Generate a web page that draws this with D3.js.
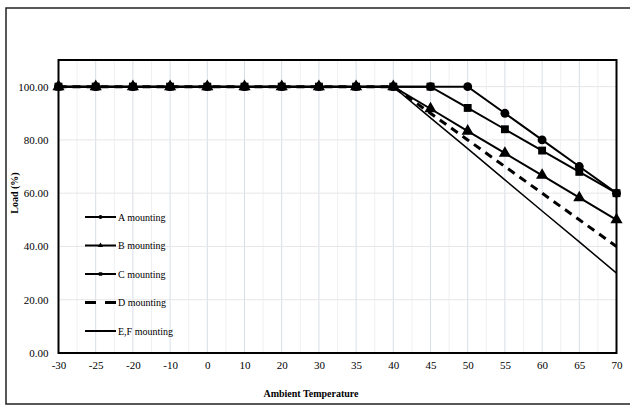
<!DOCTYPE html>
<html>
<head>
<meta charset="utf-8">
<script src="https://cdn.jsdelivr.net/npm/d3@7"></script>
<style>
  body { margin: 0; background: #fff; }
  text { font-family: "Liberation Serif", "Times New Roman", serif; fill: #000; }
</style>
</head>
<body>
<div id="chart"></div>
<script>
// ---------------- Data
const temps = ["-30","-25","-20","-10","0","10","20","30","35","40","45","50","55","60","65","70"]
const loadA  = [100,100,100,100,100,100,100,100,100,100,100,100,90,80,70,60]
const loadB  = [100,100,100,100,100,100,100,100,100,100,91.7,83.3,75,66.7,58.3,50]
const loadC  = [100,100,100,100,100,100,100,100,100,100,100,92,84,76,68,60]
const loadD  = [100,100,100,100,100,100,100,100,100,100,90,80,70,60,50,40]
const loadEF = [100,100,100,100,100,100,100,100,100,100,88.3,76.7,65,53.3,41.7,30]
const yTicks = [0,20,40,60,80,100]
const seriesNames = ["A mounting","B mounting","C mounting","D mounting","E,F mounting"]

// ---------------- Dimensions
const dims = {
    width: 630,
    height: 406,
    margin: { top: 60, right: 13.5, bottom: 53, left: 58.5 }
}
dims.boundedWidth = dims.width - dims.margin.left - dims.margin.right
dims.boundedHeight = dims.height - dims.margin.top - dims.margin.bottom

const svg = d3.select("#chart").append("svg")
    .attr("width", dims.width)
    .attr("height", dims.height)

// outer chart border (open on the right, like the picture)
svg.append("path")
    .attr("d", `M${dims.width + 2},8 H6 V404 H${dims.width + 2}`)
    .attr("fill", "none")
    .attr("stroke", "#222")
    .attr("stroke-width", 1.5)

const bounds = svg.append("g")
    .attr("transform", `translate(${dims.margin.left},${dims.margin.top})`)

// ---------------- Scales
const xScale = d3.scalePoint()
    .domain(temps)
    .range([0, dims.boundedWidth])

const yScale = d3.scaleLinear()
    .domain([0, 110])
    .range([dims.boundedHeight, 0])

// ---------------- Gridlines
const midPoints = temps.slice(1).map((t, i) => (xScale(temps[i]) + xScale(t)) / 2)

bounds.append("g").selectAll("line")
    .data(midPoints)
    .join("line")
    .attr("x1", d => d).attr("x2", d => d)
    .attr("y1", 0).attr("y2", dims.boundedHeight)
    .attr("stroke", "#eef0f3")
    .attr("stroke-width", 1)

bounds.append("g").selectAll("line")
    .data(temps)
    .join("line")
    .attr("x1", d => xScale(d)).attr("x2", d => xScale(d))
    .attr("y1", 0).attr("y2", dims.boundedHeight)
    .attr("stroke", "#d8dee8")
    .attr("stroke-width", 1)

bounds.append("g").selectAll("line")
    .data(yTicks.slice(1))
    .join("line")
    .attr("x1", 0).attr("x2", dims.boundedWidth)
    .attr("y1", d => yScale(d)).attr("y2", d => yScale(d))
    .attr("stroke", "#e6e6e6")
    .attr("stroke-width", 1)

// ---------------- Axes
const xAxis = bounds.append("g")
    .attr("transform", `translate(0,${dims.boundedHeight})`)
    .call(d3.axisBottom(xScale).tickSize(0).tickPadding(8))
xAxis.select(".domain").remove()
xAxis.selectAll("text").style("font-size", "11px").style("font-family", "Liberation Serif")

const yAxis = bounds.append("g")
    .call(d3.axisLeft(yScale).tickValues(yTicks).tickSize(0).tickPadding(10).tickFormat(d3.format(".2f")))
yAxis.select(".domain").remove()
yAxis.selectAll("text").style("font-size", "11px").style("font-family", "Liberation Serif")

// plot frame
bounds.append("rect")
    .attr("width", dims.boundedWidth)
    .attr("height", dims.boundedHeight)
    .attr("fill", "none")
    .attr("stroke", "#000")
    .attr("stroke-width", 2)

// ---------------- Lines
const seriesA  = { name: seriesNames[0], values: loadA,  width: 2,   dash: null,  marker: "circle" }
const seriesB  = { name: seriesNames[1], values: loadB,  width: 2,   dash: null,  marker: "triangle" }
const seriesC  = { name: seriesNames[2], values: loadC,  width: 2,   dash: null,  marker: "square" }
const seriesD  = { name: seriesNames[3], values: loadD,  width: 3,   dash: "8,6", marker: null }
const seriesEF = { name: seriesNames[4], values: loadEF, width: 1.5, dash: null,  marker: null }

// draw order (back to front)
const series = [seriesEF, seriesD, seriesB, seriesC, seriesA]

const lineGenerator = d3.line()
    .x((d, i) => xScale(temps[i]))
    .y(d => yScale(d))

const symbolType = { circle: d3.symbolCircle, square: d3.symbolSquare, triangle: d3.symbolTriangle }

const lineGroup = bounds.append("g")
series.forEach(s => {
    lineGroup.append("path")
        .attr("d", lineGenerator(s.values))
        .attr("fill", "none")
        .attr("stroke", "#000")
        .attr("stroke-width", s.width)
        .attr("stroke-dasharray", s.dash)
})
series.filter(s => s.marker).forEach(s => {
    lineGroup.append("g").selectAll("path")
        .data(s.values)
        .join("path")
        .attr("transform", (d, i) => `translate(${xScale(temps[i])},${yScale(d)})`)
        .attr("d", d3.symbol(symbolType[s.marker], s.marker === "triangle" ? 64 : 62))
        .attr("fill", "#000")
})

// ---------------- Legend
const legendOrder = [seriesA, seriesB, seriesC, seriesD, seriesEF]
const legend = svg.append("g")
    .attr("transform", "translate(85,217)")

legendOrder.forEach((s, i) => {
    const row = legend.append("g").attr("transform", `translate(0,${i * 28.5})`)
    row.append("line")
        .attr("x1", 0).attr("x2", 31)
        .attr("stroke", "#000")
        .attr("stroke-width", s.dash ? 3 : 2)
        .attr("stroke-dasharray", s.dash ? "11,9" : null)
    if (s.marker) {
        row.append("path")
            .attr("transform", "translate(15.5,0)")
            .attr("d", d3.symbol(symbolType[s.marker], 12))
            .attr("fill", "#000")
    }
    row.append("text")
        .attr("x", 33)
        .attr("y", 3.5)
        .style("font-size", "10px")
        .text(s.name)
})

// ---------------- Axis titles
svg.append("text")
    .attr("transform", "translate(18,193) rotate(-90)")
    .attr("text-anchor", "middle")
    .style("font-size", "10px")
    .style("font-weight", "bold")
    .text("Load (%)")

svg.append("text")
    .attr("x", 311)
    .attr("y", 397)
    .attr("text-anchor", "middle")
    .style("font-size", "10px")
    .style("font-weight", "bold")
    .text("Ambient Temperature")
</script>
</body>
</html>
